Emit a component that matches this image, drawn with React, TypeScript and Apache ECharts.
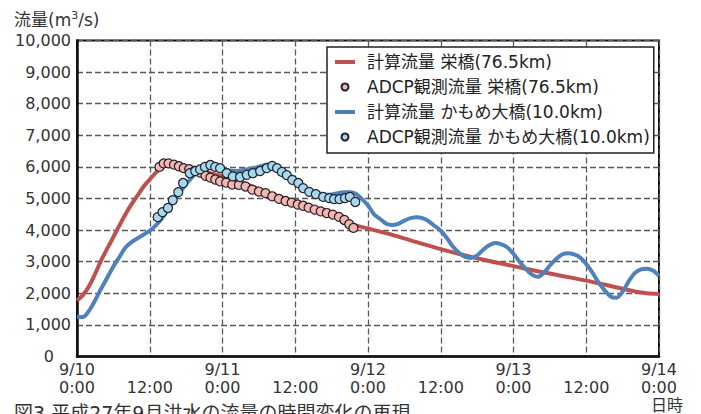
import React, { useEffect, useRef } from "react";
import * as echarts from "echarts";

// hours from 9/10 0:00
const sakaeCalcHours = [0, 1, 2, 3, 4, 5, 6, 7, 8, 9, 10, 11, 12, 13, 14, 15, 16, 18, 20, 22, 24, 26, 28, 30, 32, 34, 36, 38, 40, 42, 44, 46, 48, 50, 52, 56, 60, 64, 68, 72, 76, 80, 84, 88, 92, 94, 96];
const sakaeCalcValues = [1770, 1950, 2230, 2620, 3050, 3420, 3780, 4150, 4500, 4820, 5100, 5380, 5600, 5820, 5980, 6050, 6040, 5980, 5900, 5800, 5700, 5580, 5450, 5300, 5150, 5020, 4900, 4770, 4650, 4500, 4300, 4150, 4050, 3950, 3850, 3620, 3400, 3200, 3020, 2860, 2700, 2550, 2400, 2230, 2060, 2000, 1980];

const sakaeObsHours = [13.6, 14.3, 15.1, 16.0, 16.8, 17.6, 18.5, 19.4, 20.3, 21.2, 22.0, 22.8, 23.6, 24.6, 25.6, 26.7, 27.8, 28.9, 30.0, 31.1, 32.2, 33.3, 34.4, 35.4, 36.4, 37.3, 38.2, 39.2, 40.2, 41.2, 42.2, 43.2, 44.1, 44.9, 45.6];
const sakaeObsValues = [6000, 6110, 6110, 6070, 6020, 5960, 5930, 5870, 5820, 5720, 5660, 5600, 5540, 5500, 5440, 5430, 5380, 5280, 5220, 5170, 5070, 4990, 4920, 4870, 4810, 4770, 4710, 4650, 4590, 4540, 4490, 4420, 4320, 4190, 4070];

const kamomeCalcHours = [0, 1, 2, 3, 4, 5, 6, 7, 8, 9, 10, 11, 12, 13, 14, 15, 16, 17, 18, 19, 20, 21, 22, 24, 26, 28, 30, 31, 32, 33, 34, 35, 36, 37, 38, 39, 40, 41, 42, 43, 44, 45, 46, 47, 48, 49, 50, 51, 52, 53, 54, 55, 56, 57, 58, 59, 60, 61, 62, 63, 64, 65, 66, 67, 68, 69, 70, 71, 72, 73, 74, 75, 76, 77, 78, 79, 80, 81, 82, 83, 84, 85, 86, 87, 88, 89, 90, 91, 92, 93, 94, 95, 96];
const kamomeCalcValues = [1260, 1250, 1450, 1780, 2150, 2500, 2850, 3150, 3450, 3620, 3740, 3860, 3980, 4150, 4370, 4650, 4920, 5200, 5450, 5680, 5850, 5950, 5980, 5920, 5870, 5920, 6000, 6060, 6080, 6000, 5870, 5700, 5520, 5380, 5270, 5200, 5160, 5120, 5130, 5170, 5200, 5200, 5150, 4980, 4780, 4500, 4350, 4200, 4160, 4200, 4300, 4380, 4410, 4380, 4280, 4130, 3980, 3750, 3480, 3280, 3150, 3120, 3200, 3380, 3520, 3590, 3550, 3450, 3250, 3000, 2780, 2600, 2520, 2650, 2880, 3080, 3230, 3270, 3230, 3130, 2930, 2660, 2350, 2100, 1900, 1860, 2050, 2380, 2640, 2760, 2780, 2720, 2560];

const kamomeObsHours = [13.3, 14.1, 15.0, 15.8, 16.7, 17.5, 18.6, 19.5, 20.3, 21.1, 22.0, 22.8, 23.6, 24.7, 25.7, 26.9, 28.0, 29.0, 30.2, 31.3, 32.2, 33.0, 33.8, 34.6, 35.5, 36.5, 37.3, 38.3, 39.4, 40.6, 41.6, 42.4, 43.3, 44.2, 45.0, 45.9];
const kamomeObsValues = [4410, 4570, 4700, 4950, 5200, 5490, 5800, 5870, 5920, 6000, 6060, 6000, 5960, 5800, 5700, 5680, 5750, 5800, 5870, 5960, 6030, 5960, 5840, 5740, 5590, 5490, 5330, 5210, 5140, 5050, 5010, 4980, 4980, 5010, 5050, 4890];

const seriesNames = [
  "計算流量 栄橋(76.5km)",
  "ADCP観測流量 栄橋(76.5km)",
  "計算流量 かもめ大橋(10.0km)",
  "ADCP観測流量 かもめ大橋(10.0km)",
];
const dayLabels = ["9/10", "9/11", "9/12", "9/13", "9/14"];
const yTitle = "流量(m{sup|3}/s)";
const xTitle = "日時";
const caption = "図3 平成27年9月洪水の流量の時間変化の再現";

const zip = (h: number[], v: number[]) => h.map((x, i) => [x, v[i]]);

const FONT = "'DejaVu Sans', 'Noto Sans CJK JP', sans-serif";

export default function App() {
  const ref = useRef<HTMLDivElement>(null);
  useEffect(() => {
    if (!ref.current) return;
    const chart = echarts.init(ref.current, null, { renderer: "svg" });
    const dash = { color: "#5a5a5a", width: 1.3, type: [6, 3] as number[] };
    const hidden = { color: "rgba(0,0,0,0)", borderColor: "rgba(0,0,0,0)", borderWidth: 0 };
    chart.setOption({
      animation: false,
      backgroundColor: "#ffffff",
      textStyle: { fontFamily: FONT },
      grid: {
        left: 77,
        right: 42,
        top: 40.5,
        bottom: 57.5,
        show: true,
        borderColor: "#111",
        borderWidth: 2,
        backgroundColor: "transparent",
      },
      legend: {
        orient: "vertical",
        left: 327,
        top: 47,
        padding: [5, 4, 6, 6],
        itemGap: 5,
        itemWidth: 20,
        itemHeight: 7,
        borderColor: "#222",
        borderWidth: 1.5,
        backgroundColor: "#fff",
        textStyle: { fontSize: 17, lineHeight: 20, color: "#222", fontFamily: FONT, padding: [0, 0, 0, 7] },
        data: [
          { name: seriesNames[0], itemStyle: hidden, lineStyle: { width: 4, color: "#C0504D" } },
          { name: seriesNames[1] },
          { name: seriesNames[2], itemStyle: hidden, lineStyle: { width: 4, color: "#4F81BD" } },
          { name: seriesNames[3] },
        ],
      },
      xAxis: {
        type: "value",
        min: 0,
        max: 96,
        interval: 12,
        axisLine: { show: true, onZero: false, lineStyle: { color: "#111", width: 2.5 } },
        axisTick: { show: false },
        splitLine: { show: true, lineStyle: dash },
        axisLabel: {
          fontSize: 16,
          lineHeight: 18,
          color: "#333",
          margin: 4,
          fontFamily: FONT,
          formatter: (v: number) =>
            v % 24 === 0 ? `${dayLabels[v / 24]}\n0:00` : `\n12:00`,
        },
      },
      yAxis: {
        type: "value",
        min: 0,
        max: 10000,
        interval: 1000,
        axisLine: { show: true, lineStyle: { color: "#111", width: 2.5 } },
        axisTick: { show: false },
        splitLine: { show: true, lineStyle: dash },
        axisLabel: {
          fontSize: 16,
          color: "#333",
          margin: 6,
          fontFamily: FONT,
          formatter: (v: number) => (v === 0 ? "{z|0}" : v.toLocaleString("en-US")),
          rich: { z: { fontSize: 16, color: "#333", padding: [0, 17, 0, 0], fontFamily: FONT } },
        },
      },
      graphic: [
        {
          type: "text",
          left: 14,
          top: 10,
          style: {
            text: yTitle,
            font: `17px ${FONT}`,
            fill: "#333",
            rich: { sup: { fontSize: 11, padding: [0, 0, 8, 0], fill: "#333", fontFamily: FONT } },
          },
        },
        {
          type: "text",
          left: 651,
          top: 397,
          style: { text: xTitle, font: `16px ${FONT}`, fill: "#333" },
        },
        {
          type: "text",
          left: 14,
          top: 403,
          style: { text: caption, font: `19px ${FONT}`, fill: "#333" },
        },
      ],
      series: [
        {
          name: seriesNames[0],
          type: "line",
          data: zip(sakaeCalcHours, sakaeCalcValues),
          symbol: "none",
          smooth: 0.3,
          color: "#C0504D",
          lineStyle: { width: 4, color: "#C0504D" },
          z: 2,
        },
        {
          name: seriesNames[1],
          type: "scatter",
          data: zip(sakaeObsHours, sakaeObsValues),
          symbol: "circle",
          symbolSize: 9,
          itemStyle: { color: "#F5B5B3", borderColor: "#222", borderWidth: 1.2, opacity: 1 },
          z: 3,
        },
        {
          name: seriesNames[2],
          type: "line",
          data: zip(kamomeCalcHours, kamomeCalcValues),
          symbol: "none",
          smooth: 0.3,
          color: "#4F81BD",
          lineStyle: { width: 4, color: "#4F81BD" },
          z: 4,
        },
        {
          name: seriesNames[3],
          type: "scatter",
          data: zip(kamomeObsHours, kamomeObsValues),
          symbol: "circle",
          symbolSize: 9,
          itemStyle: { color: "#A7D8F1", borderColor: "#222", borderWidth: 1.2, opacity: 1 },
          z: 5,
        },
      ],
    });
    return () => chart.dispose();
  }, []);
  return (
    <div
      ref={ref}
      style={{ position: "absolute", left: 0, top: 0, width: 701, height: 414, background: "#fff" }}
    />
  );
}
